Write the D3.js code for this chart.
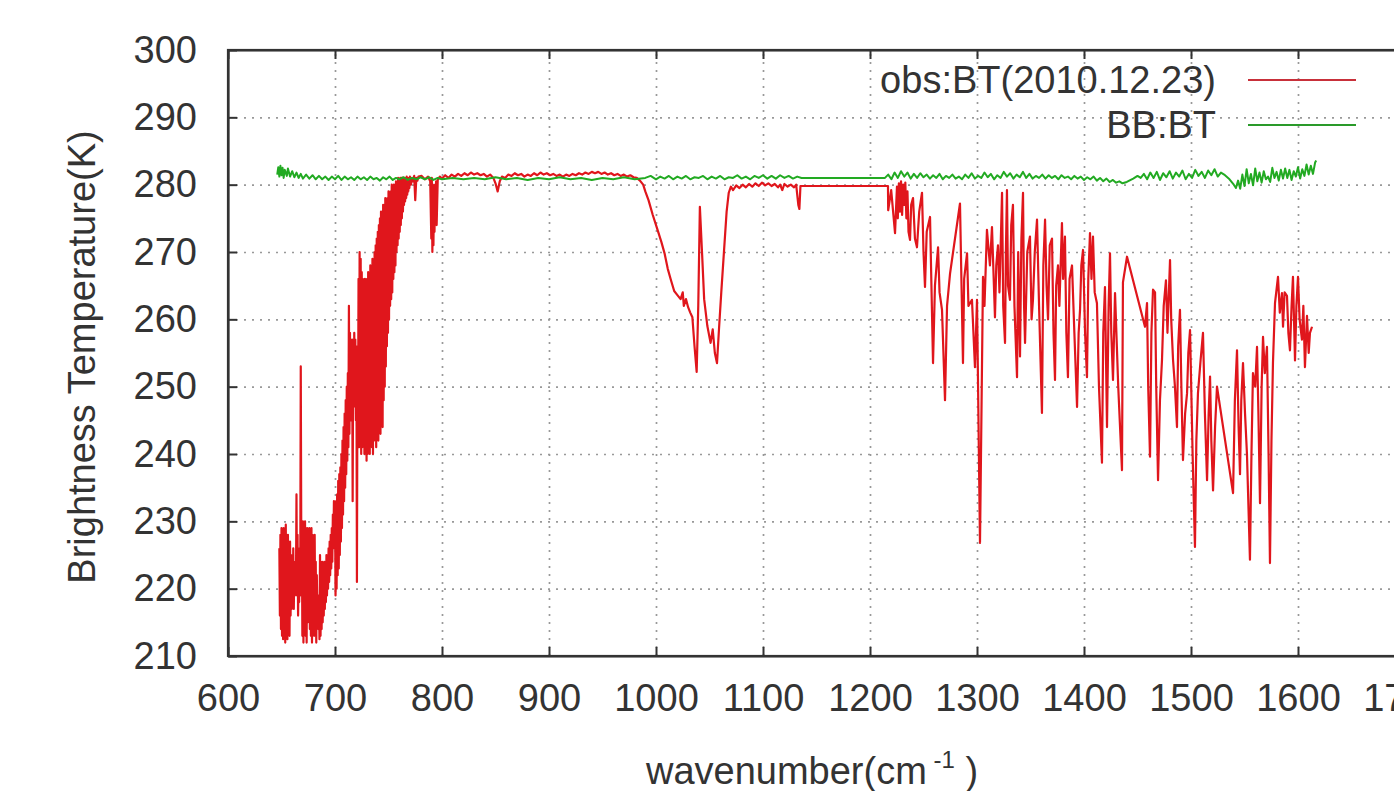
<!DOCTYPE html>
<html>
<head>
<meta charset="utf-8">
<script src="https://cdn.jsdelivr.net/npm/d3@7"></script>
<style>
  body { margin: 0; background: #fff; overflow: hidden; }
  text { font-family: "Liberation Sans", Arial, sans-serif; fill: #333; }
</style>
</head>
<body>
<script>
// tick values
const xTicks = [600, 700, 800, 900, 1000, 1100, 1200, 1300, 1400, 1500, 1600, 1700];
const yTicks = [210, 220, 230, 240, 250, 260, 270, 280, 290, 300];

// obs:BT, wavenumber / brightness temperature pairs
const obsCo2 = [
  [648,226],[648.5,216],[649,228],[649.5,214],[650,229],[650.5,213],[651,227],[651.5,212.5],[652,229],[652.5,213],
  [653,228],[653.5,212],[654,229.5],[654.5,214],[655,227],[655.5,212.5],[656,228],[656.5,215],[657,226],[657.5,213],
  [658,227],[658.5,216],[659,225],[659.5,217],[660,224],[660.5,218],[661,226],[661.5,217],[662,224],[662.5,219],
  [663,223],[663.5,220],[664,234],[664.5,219],[665,228],[665.5,216],[666,222],[666.5,218],[667,226],[667.5,219],
  [668,253],[668.5,226],[669,230],[669.5,213],[670,230],[670.5,212],[671,229.5],[671.5,214],[672,230],[672.5,213],
  [673,229],[673.5,212],[674,229],[674.5,215],[675,228.5],[675.5,216],[676,229],[676.5,214],[677,228],[677.5,213],
  [678,229],[678.5,212],[679,228],[679.5,214],[680,226],[680.5,213],[681,228],[681.5,215],[682,224],[682.5,212],
  [683,222],[683.5,216],[684,218],[684.5,214],[685,219],[685.5,212.5],[686,225],[686.5,213],[687,223],[687.5,214],
  [688,224],[688.5,215],[689,222],[689.5,216],[690,224],[690.5,217],[691,223],[691.5,218],[692,225],[692.5,219],
  [693,224],[693.5,220],[694,226],[694.5,221],[695,227],[695.5,222],[696,228],[696.5,223],[697,229],[697.5,224],
  [698,231],[698.5,226],[699,233],[699.5,228]
];
const obsRise = [
  [700,232],[700.5,219],[701,233],[701.5,220],[702,234],[702.5,222],[703,236],[703.5,223],[704,237],[704.5,225],
  [705,238],[705.5,227],[706,240],[706.5,229],[707,242],[707.5,231],[708,244],[708.5,233],[709,246],[709.5,235],
  [710,248],[710.5,237],[711,250],[711.5,239],[712,252],[712.5,241],[713,262],[713.5,243],[714,258],[714.5,245],
  [715,256],[715.5,246],[716,257],[716.5,233],[717,255],[717.5,247],[718,258],[718.5,248],[719,257],[719.5,245],
  [720,256],[720.5,221],[721,254],[721.5,243],[722,266],[722.5,241],[723,270],[723.5,242],[724,269],[724.5,240],
  [725,267],[725.5,241],[726,266],[726.5,242],[727,265],[727.5,240],[728,266],[728.5,241],[729,265],[729.5,239],
  [730,266],[730.5,240],[731,267],[731.5,241],[732,266],[732.5,240],[733,268],[733.5,242],[734,267],[734.5,241],
  [735,269],[735.5,240],[736,268],[736.5,242],[737,270],[737.5,243],[738,271],[738.5,241],[739,272],[739.5,244],
  [740,273],[740.5,242],[741,274],[741.5,245],[742,275],[742.5,243],[743,276],[743.5,246],[744,276],[744.5,244],
  [745,277],[745.5,248],[746,277],[746.5,250],[747,278],[747.5,253],[748,277],[748.5,256],[749,278],[749.5,258],
  [750,279],[750.5,260],[751,278],[751.5,262],[752,279],[752.5,263],[753,280],[753.5,264],[754,279],[754.5,266],
  [755,280],[755.5,267],[756,280],[756.5,268],[757,280.5],[757.5,270],[758,280],[758.5,271],[759,281],[759.5,272],
  [760,280.5],[760.5,273],[761,281],[761.5,274],[762,281],[762.5,275],[763,281],[763.5,276],[764,281],[764.5,277],
  [765,281],[765.5,277.5],[766,281],[766.5,278],[767,281.2],[767.5,278.5],[768,281],[768.5,279],[769,281],[769.5,279.5],
  [770,281.2],[771,280],[772,281],[773,280.5],[774,281.3],[775,277.7],[776,281],[777,280.6],[778,281.2]
];
const obsWindow = [
  [781,281.3],[784,280.8],[787,281.2],[789,280.5],[790,272],[790.5,281],[791,270],[791.5,280],[792,271],[792.5,279],
  [793,273],[793.5,280],[794,275],[794.5,280.5],[795,274],[796,280.7],[798,281.2],[800,280.9],[803,281.4],[806,281.0],
  [809,281.5],[812,281.2],[815,281.6],[818,281.3],[821,281.7],[824,281.4],[827,281.8],[830,281.5],[833,281.7],[836,281.4],
  [839,281.6],[842,281.2],[845,281.5],[848,281.0],[850,280.2],[852,279.0],[854,280.5],[856,281.2],[859,281.0],[862,281.5],
  [865,281.3],[868,281.7],[871,281.4],[874,281.6],[877,281.2],[880,281.5],[883,281.3],[886,281.7],[889,281.4],[892,281.8],
  [895,281.5],[898,281.7],[901,281.4],[904,281.6],[907,281.3],[910,281.5],[913,281.2],[916,281.5],[919,281.3],[922,281.6],
  [925,281.4],[928,281.7],[931,281.5],[934,281.8],[937,281.6],[940,281.9],[943,281.7],[946,281.9],[949,281.6],[952,281.8],
  [955,281.5],[958,281.7],[961,281.4],[964,281.6],[967,281.3],[970,281.5],[973,281.2],[976,281.4],[979,281.1],[982,281.0],
  [985,280.6],[988,280.0],[990,279.0],[993,277.7],[997,275.5],[1001,273.5],[1005,271.5],[1008,269.8],[1011,267.5],[1014,265.8],
  [1017,264.2],[1020,263.6],[1023,263.0],[1025,264.0],[1026,262.0],[1028,263.0],[1030,261.8],[1032,261.0],[1034,260.3],[1036,256],
  [1038,252.2],[1039.5,262],[1041,276.7],[1043,270],[1045,263],[1048,259],[1051,256.5],[1053,258.5],[1055,255],[1057,253.5],
  [1059,258.9],[1061,264],[1063,268.8],[1066,276],[1068,278.8],[1070,279.7],[1072,279.2],[1075,279.9],[1078,279.5],[1081,280.0],
  [1084,279.6],[1087,280.1],[1090,279.7],[1093,280.2],[1096,279.8],[1099,280.3],[1102,279.9],[1105,280.2],[1108,279.8],[1111,280.1],
  [1114,279.6],[1116,280.0],[1118,279.2],[1120,280.1],[1123,279.7],[1126,280.0],[1129,279.6],[1131,280.0],[1133,277.0],[1134,276.4],
  [1135,279.8],[1214,279.8]
];
const obsWater = [
  [1216.8,279.8],[1217,276.2],[1219.8,279.2],[1223.4,272.8],[1225.2,279.7],[1226,275],[1227,280.2],[1228,276],[1229,280.5],[1230,275.5],
  [1231,280],[1232,277],[1233,280.3],[1234,275],[1235,279],[1236,273],[1237.4,271.8],[1238.5,277],[1240.2,278],[1242,272],
  [1243.9,270.7],[1246,276],[1248.6,278.8],[1250,270],[1251.4,264.8],[1253,273],[1256.1,275.2],[1258.9,253.5],[1260.7,265],[1263.6,270.7],
  [1265,264],[1267.3,261.4],[1270.1,248.0],[1272,262],[1274.8,266.8],[1284.1,277.2],[1286.9,253.5],[1288,266],[1290.7,269.8],[1292,262],
  [1295.3,262.9],[1298.1,252.9],[1300,262.9],[1302.8,226.8],[1305.6,266.3],[1307,262],[1309.3,273.3],[1312.1,268],[1314,273.7],[1316.8,260.3],
  [1318,268],[1319.6,271],[1321,264],[1323.4,278.8],[1324.5,262],[1326.2,256.5],[1327,270],[1328,279.2],[1329,265],[1330.8,262.9],
  [1332,274],[1333.6,277],[1335,262],[1337.4,251.4],[1338.5,270],[1340.2,254.5],[1341.5,272],[1343,278.8],[1344,262],[1344.9,256.5],
  [1347,270],[1349.5,272.3],[1351,260],[1352.3,262.9],[1354,270],[1356.1,274.8],[1358,262],[1360.7,246.1],[1362,268],[1363.6,274.8],
  [1365,265],[1366.4,260],[1368,271],[1370.1,272],[1371.5,258],[1372.9,251.0],[1374,265],[1375.7,268],[1377,262],[1379.4,274.3],
  [1380.5,266],[1382.2,272.3],[1383.5,258],[1385,251.4],[1386.5,266],[1388.8,268],[1391,258],[1393.5,247.0],[1395,258],[1396.3,261.4],
  [1397.5,268],[1399.1,270.3],[1401,258],[1402.8,251.4],[1404,266],[1405.6,272.8],[1407,266],[1408.4,272.3],[1410,264],[1412.1,262.4],
  [1414,250],[1416.8,238.7],[1418,258],[1419.6,264.8],[1421.5,244],[1423,262],[1424.3,269.8],[1425.5,258],[1427.1,251],[1429,263.9],
  [1432,250],[1435.5,237.6],[1436.4,265.5],[1440.2,269.3],[1457,258.9],[1458.9,262.4],[1460,250],[1461.7,239.6],[1463,258],[1464.5,264.4],
  [1466.4,264],[1467.5,250],[1469.2,236.1],[1471,248],[1472.9,254],[1474.5,262],[1476.6,265.8],[1478,258],[1480.4,268.8],[1481.5,260],
  [1483.2,254],[1485,250],[1486.9,244.0],[1488,256],[1489.7,261.4],[1491,250],[1492.5,239.1],[1494.5,246],[1496.3,249],[1497.5,255],
  [1499.1,258.4],[1501.5,240],[1503.7,226.2],[1505,242],[1506.5,249],[1509,254],[1511.2,258.0],[1513,246],[1515,236.1],[1516.5,246],
  [1517.8,251.5],[1519,242],[1520.6,234.6],[1522.5,244],[1524.3,250.0],[1539.3,234.2],[1541,248],[1543,255.4],[1544.5,244],[1545.8,237],
  [1547,248],[1548.6,253.5],[1550.5,246],[1552.3,240],[1555.1,224.3],[1556.5,240],[1557.9,252],[1560,250],[1561.7,255.9],[1563,246],
  [1564.5,232.7],[1566,250],[1567.3,257.4],[1569,252],[1571,255.9],[1572.5,240],[1573.8,223.8],[1575.2,242],[1576.6,253.5],[1578.5,262.4],
  [1581.3,266.3],[1583,261],[1585,263.9],[1586,258.9],[1587.5,264],[1589.7,263.5],[1591,258],[1592.5,255.4],[1594,262],[1595.3,266.3],
  [1597.2,253.9],[1598.5,262],[1600,266.3],[1601.5,260],[1603.7,257],[1605,262],[1606.5,252.9],[1608.4,260.5],[1610,255],[1611.2,258.0],
  [1613.1,258.9]
];

// BB:BT
const bbLow = [
  [646,281.5],[647,282.6],[648,281.2],[649,282.8],[650,281.4],[651,282.5],[652,281.0],[653,282.2],[655,281.3],[656,282.4],
  [658,281.2],[660,282.0],[662,281.1],[664,281.8],[666,281.0],[668,281.6],[670,280.9],[673,281.5],[676,280.9],[679,281.4],
  [682,280.8],[685,281.3],[688,280.8],[691,281.2],[694,280.7],[697,281.2],[700,280.8],[703,281.3],[706,280.7],[709,281.2],
  [712,280.8],[715,281.1],[718,280.7],[721,281.2],[724,280.8],[727,281.1],[730,280.7],[733,281.2],[736,280.8],[739,281.0],
  [742,280.6],[745,281.1],[748,280.8],[751,281.2],[754,280.7],[757,281.0],[760,280.8],[764,281.1],[768,280.7],[772,281.0],
  [776,280.8],[780,281.1],[784,280.8],[788,281.1],[792,280.7],[796,281.0],[800,280.8]
];
const bbWindow = [
  [810,281.0],[820,280.8],[830,281.0],[840,280.8],[850,281.1],[860,280.8],[870,281.0],[880,280.7],[890,281.0],[900,280.8],
  [910,281.1],[920,280.8],[930,281.0],[940,280.7],[950,281.0],[960,280.8],[970,281.1],[980,280.8],[990,281.0],[995,281.3],
  [1000,280.8],[1004,281.2],[1008,280.9],[1012,281.3],[1016,280.8],[1020,281.2],[1024,280.9],[1028,281.3],[1032,280.8],[1036,281.1],
  [1040,281.0],[1044,281.3],[1048,280.8],[1052,281.2],[1056,280.9],[1060,281.3],[1064,280.8],[1068,281.1],[1072,281.0],[1076,281.4],
  [1080,280.9],[1084,281.2],[1088,280.8],[1092,281.3],[1096,281.0],[1100,281.4],[1104,280.9],[1108,281.3],[1112,280.9],[1116,281.4],
  [1120,281.0],[1124,281.3],[1128,280.9],[1132,281.2],[1136,281.0],[1214,281.0]
];
const bbHigh = [
  [1217,281.5],[1220,280.8],[1223,281.8],[1226,281.0],[1229,282.0],[1232,281.2],[1235,281.8],[1238,280.9],[1241,281.6],[1244,281.0],
  [1247,281.7],[1250,281.1],[1253,281.5],[1256,280.9],[1259,281.4],[1262,281.0],[1265,281.6],[1268,280.8],[1271,281.3],[1274,281.0],
  [1277,281.5],[1280,280.9],[1283,281.2],[1286,280.8],[1289,281.5],[1292,281.0],[1295,281.7],[1298,280.9],[1301,281.3],[1304,281.0],
  [1307,281.8],[1310,281.1],[1313,281.6],[1316,280.8],[1319,281.4],[1322,281.0],[1325,281.9],[1328,281.2],[1331,281.7],[1334,280.9],
  [1337,281.5],[1340,281.1],[1343,281.9],[1346,281.0],[1349,281.6],[1352,280.9],[1355,281.3],[1358,281.0],[1361,281.5],[1364,280.9],
  [1367,281.4],[1370,281.0],[1373,281.3],[1376,280.8],[1379,281.4],[1382,281.0],[1385,281.2],[1388,280.8],[1391,281.3],[1394,280.9],
  [1397,281.2],[1400,280.7],[1403,281.1],[1406,280.8],[1409,281.2],[1412,280.6],[1415,281.0],[1418,280.5],[1421,280.9],[1424,280.4],
  [1427,280.7],[1430,280.3],[1433,280.5],[1436,280.2],[1440,280.4],[1446,280.9],[1450,281.3],[1453,281.0],[1456,281.6],[1459,280.8],
  [1462,281.8],[1465,281.0],[1468,281.9],[1471,280.7],[1474,281.7],[1477,281.1],[1480,282.0],[1483,280.9],[1486,281.8],[1489,281.2],
  [1492,282.1],[1495,280.8],[1498,281.6],[1501,281.0],[1504,282.2],[1507,281.3],[1510,281.9],[1513,281.0],[1516,282.1],[1519,281.4],
  [1522,282.3],[1525,281.2],[1528,281.8],[1531,281.5],[1536,280.8],[1540,280.0],[1542,279.5],[1544,280.6],[1546,279.4],[1548,281.5],
  [1550,279.8],[1552,282.3],[1554,280.2],[1556,281.6],[1558,279.9],[1560,282.4],[1562,280.5],[1564,281.8],[1566,280.3],[1568,282.0],
  [1570,280.8],[1572,281.2],[1574,280.4],[1576,282.5],[1578,281.0],[1580,281.9],[1582,280.6],[1584,282.2],[1586,280.9],[1588,282.4],
  [1590,281.0],[1592,282.2],[1594,280.7],[1596,282.0],[1598,281.2],[1600,282.6],[1602,280.9],[1604,282.3],[1606,281.3],[1608,283.0],
  [1610,281.5],[1612,282.8],[1614,281.6],[1616,283.3],[1617,283.6]
];

const obsData = [].concat(obsCo2, obsRise, obsWindow, obsWater);
const bbData = [].concat(bbLow, bbWindow, bbHigh);

const margin = { top: 50, left: 228 },
    width = 1177, height = 606;

const svg = d3.select("body").append("svg")
    .attr("width", 1394)
    .attr("height", 791);

const x = d3.scaleLinear().domain([600, 1700]).range([0, width]);
const y = d3.scaleLinear().domain([210, 300]).range([height, 0]);

const g = svg.append("g")
    .attr("transform", "translate(" + margin.left + "," + margin.top + ")");

// dotted grid
g.append("g")
    .attr("transform", "translate(0," + height + ")")
    .call(d3.axisBottom(x).tickValues(xTicks.slice(1, -1)).tickSize(-height).tickFormat(""))
    .call(a => a.select(".domain").remove())
    .selectAll("line")
    .attr("stroke", "#999").attr("stroke-width", 1.7).attr("stroke-dasharray", "2,6");

g.append("g")
    .call(d3.axisLeft(y).tickValues(yTicks.slice(1, -1)).tickSize(-width).tickFormat(""))
    .call(a => a.select(".domain").remove())
    .selectAll("line")
    .attr("stroke", "#999").attr("stroke-width", 1.7).attr("stroke-dasharray", "2,6");

// clip to plot area
svg.append("clipPath").attr("id", "plotclip")
    .append("rect").attr("width", width).attr("height", height);

const line = d3.line().x(d => x(d[0])).y(d => y(d[1]));

const plot = g.append("g").attr("clip-path", "url(#plotclip)");

plot.append("path")
    .datum(obsData)
    .attr("fill", "none")
    .attr("stroke", "#e0161c")
    .attr("stroke-width", 2.2)
    .attr("stroke-linejoin", "round")
    .attr("d", line);

plot.append("path")
    .datum(bbData)
    .attr("fill", "none")
    .attr("stroke", "#22aa22")
    .attr("stroke-width", 2)
    .attr("stroke-linejoin", "round")
    .attr("d", line);

// axes with labels, inward ticks
const fmt = d3.format("d");
const xAxis = g.append("g")
    .attr("transform", "translate(0," + height + ")")
    .call(d3.axisBottom(x).tickValues(xTicks).tickFormat(fmt).tickSizeInner(-9).tickSizeOuter(0).tickPadding(28));
const yAxis = g.append("g")
    .call(d3.axisLeft(y).tickValues(yTicks).tickFormat(fmt).tickSizeInner(-9).tickSizeOuter(0).tickPadding(31));
g.append("g")
    .call(d3.axisTop(x).tickValues(xTicks).tickSizeInner(-9).tickSizeOuter(0).tickFormat(""));

[xAxis, yAxis].forEach(a => {
    a.selectAll("text").attr("font-size", 38).attr("fill", "#333")
        .attr("font-family", "Liberation Sans, Arial, sans-serif");
});
g.selectAll(".domain").attr("stroke", "#333").attr("stroke-width", 2.2);
g.selectAll(".tick line").filter(function () { return this.getAttribute("stroke-dasharray") === null; })
    .attr("stroke", "#333").attr("stroke-width", 2);

// frame
g.append("rect")
    .attr("width", width).attr("height", height)
    .attr("fill", "none").attr("stroke", "#333").attr("stroke-width", 2.2);

// axis titles
svg.append("text")
    .attr("transform", "translate(95,357) rotate(-90)")
    .attr("text-anchor", "middle")
    .attr("font-size", 38)
    .text("Brightness Temperature(K)");

const xt = svg.append("text")
    .attr("x", 812).attr("y", 784)
    .attr("text-anchor", "middle")
    .attr("font-size", 38);
xt.append("tspan").text("wavenumber(cm");
xt.append("tspan").attr("font-size", 24).attr("dy", -16).text(" -1");
xt.append("tspan").attr("dy", 16).text(" )");

// legend
const legend = [
    { label: "obs:BT(2010.12.23)", color: "#c8303a" },
    { label: "BB:BT", color: "#2a9a2a" }
];
const lg = svg.append("g").attr("transform", "translate(1216,80)");
legend.forEach((d, i) => {
    lg.append("text")
        .attr("x", 0).attr("y", i * 45 + 13)
        .attr("text-anchor", "end")
        .attr("font-size", 38)
        .text(d.label);
    lg.append("line")
        .attr("x1", 32).attr("x2", 140)
        .attr("y1", i * 45).attr("y2", i * 45)
        .attr("stroke", d.color).attr("stroke-width", 2);
});
</script>
</body>
</html>
